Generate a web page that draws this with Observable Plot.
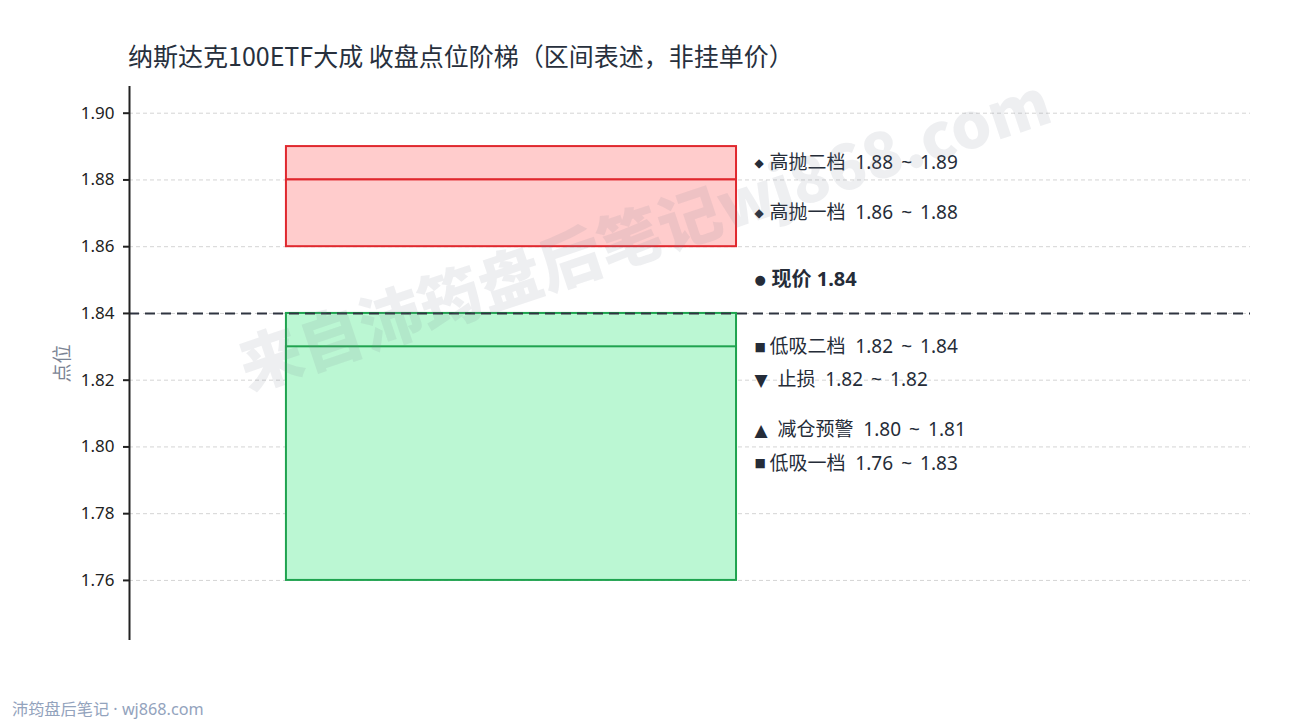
<!DOCTYPE html>
<html>
<head>
<meta charset="utf-8">
<script src="https://cdn.jsdelivr.net/npm/d3@7"></script>
<script src="https://cdn.jsdelivr.net/npm/@observablehq/plot@0.6"></script>
<style>
  html, body { margin: 0; padding: 0; background: #fff; }
  body { width: 1290px; height: 720px; position: relative; overflow: hidden;
         font-family: "Noto Sans", "Noto Sans CJK SC", sans-serif; }
  #title { position: absolute; left: 128px; top: 39px; font-size: 25px; line-height: 32px; color: #27303d;
           font-family: "Noto Sans CJK SC", "Noto Sans", sans-serif; white-space: pre; }
  #chart { position: absolute; left: 0; top: 0; }
  #footer { position: absolute; left: 12px; top: 696px; font-size: 16.2px; color: #93a3bd;
            font-family: "Noto Sans", "Noto Sans CJK SC", sans-serif; white-space: pre; }
  #wm { position: absolute; left: 643px; top: 230px; transform: translate(-50%, -50%) rotate(-18.5deg);
        font-size: 63px; font-weight: 900; color: rgba(120, 130, 150, 0.13); white-space: nowrap;
        font-family: "Noto Sans CJK SC", "Noto Sans", sans-serif; pointer-events: none; }
</style>
</head>
<body>
<div id="chart"></div>
<div id="title">纳斯达克100ETF大成 收盘点位阶梯（区间表述，非挂单价）</div>
<div id="wm">来自沛筠盘后笔记wj868.com</div>
<div id="footer">沛筠盘后笔记 · wj868.com</div>
<script>
// Data
const levelNames = ["高抛二档", "高抛一档", "低吸二档", "止损", "减仓预警", "低吸一档"];
const levelLows  = [1.88, 1.86, 1.82, 1.82, 1.80, 1.76];
const levelHighs = [1.89, 1.88, 1.84, 1.82, 1.81, 1.83];
const levelKinds = ["sell", "sell", "buy", "stop", "warn", "buy"];
const levelSymbols = ["◆", "◆", "■", "▼", "▲", "■"];
const currentPrice = 1.84;
const currentLabel = "现价";
const currentSymbol = "●";
const yTicks = [1.76, 1.78, 1.80, 1.82, 1.84, 1.86, 1.88, 1.90];
const yLabel = "点位";

const levels = levelNames.map((name, i) => ({
  name, lo: levelLows[i], hi: levelHighs[i], kind: levelKinds[i], sym: levelSymbols[i]
}));
const boxes = levels.filter(d => d.kind === "sell" || d.kind === "buy");
const yMin = d3.min(levelLows) - 0.018;
const yMax = d3.max(levelHighs) + 0.018;

const fillOf = k => k === "sell" ? "#ffcccc" : "#bbf7d3";
const strokeOf = k => k === "sell" ? "#e0282e" : "#1fa34f";
const symSize = s => s === "◆" ? 12 : s === "■" ? 12 : 17;
const isTri = s => s === "▲" || s === "▼";
const fmt = d3.format(".2f");

const nb = "\u00a0";
const sep = "\u00a0\u2009~\u00a0\u2009";
const plot = Plot.plot({
  width: 1290,
  height: 720,
  marginLeft: 129,
  marginRight: 40,
  marginTop: 86,
  marginBottom: 80,
  style: { fontFamily: "'Noto Sans', 'Noto Sans CJK SC', sans-serif", background: "transparent" },
  x: { domain: [0, 1], axis: null },
  y: { domain: [yMin, yMax], axis: null },
  marks: [
    Plot.gridY(yTicks, { stroke: "#d4d4d4", strokeOpacity: 1, strokeDasharray: "4,3", strokeWidth: 1 }),
    Plot.rect(boxes, {
      x1: 0.14, x2: 0.5415, y1: "lo", y2: "hi",
      fill: d => fillOf(d.kind), stroke: d => strokeOf(d.kind), strokeWidth: 2
    }),
    Plot.ruleY([currentPrice], { stroke: "#2f3440", strokeWidth: 2, strokeDasharray: "10,6" }),
    Plot.ruleX([0], { stroke: "#222", strokeWidth: 2 }),
    Plot.axisY({
      ticks: yTicks, tickFormat: () => "", tickSize: 6,
      stroke: "#222", strokeWidth: 2, label: null
    }),
    Plot.text(yTicks, {
      frameAnchor: "left", y: d => d, dx: -15, textAnchor: "end",
      text: d => fmt(d), fontSize: 17, fill: "#222"
    }),
    Plot.text([yLabel], {
      frameAnchor: "left", rotate: -90, dx: -67, textAnchor: "middle", text: d => d,
      fontSize: 19, fill: "#7b8494"
    }),
    Plot.text(levels, {
      x: 0.5575, y: d => (d.lo + d.hi) / 2, textAnchor: "start",
      text: "sym", fontSize: d => symSize(d.sym), fill: "#252c38",
      fontFamily: "DejaVu Sans"
    }),
    Plot.text(levels, {
      x: d => isTri(d.sym) ? 0.578 : 0.5709, y: d => (d.lo + d.hi) / 2, textAnchor: "start",
      text: d => `${d.name}${nb}${nb}${fmt(d.lo)}${sep}${fmt(d.hi)}`,
      fontSize: 19, fill: "#252c38"
    }),
    Plot.text([currentPrice], {
      x: 0.5575, y: d => d, dy: -34, textAnchor: "start",
      text: () => currentSymbol, fontSize: 13, fill: "#252c38", fontFamily: "DejaVu Sans"
    }),
    Plot.text([currentPrice], {
      x: 0.5727, y: d => d, dy: -34, textAnchor: "start",
      text: d => `${currentLabel}${nb}${fmt(d)}`,
      fontSize: 20, fontWeight: "bold", fill: "#252c38"
    })
  ]
});
document.getElementById("chart").appendChild(plot);
</script>
</body>
</html>
